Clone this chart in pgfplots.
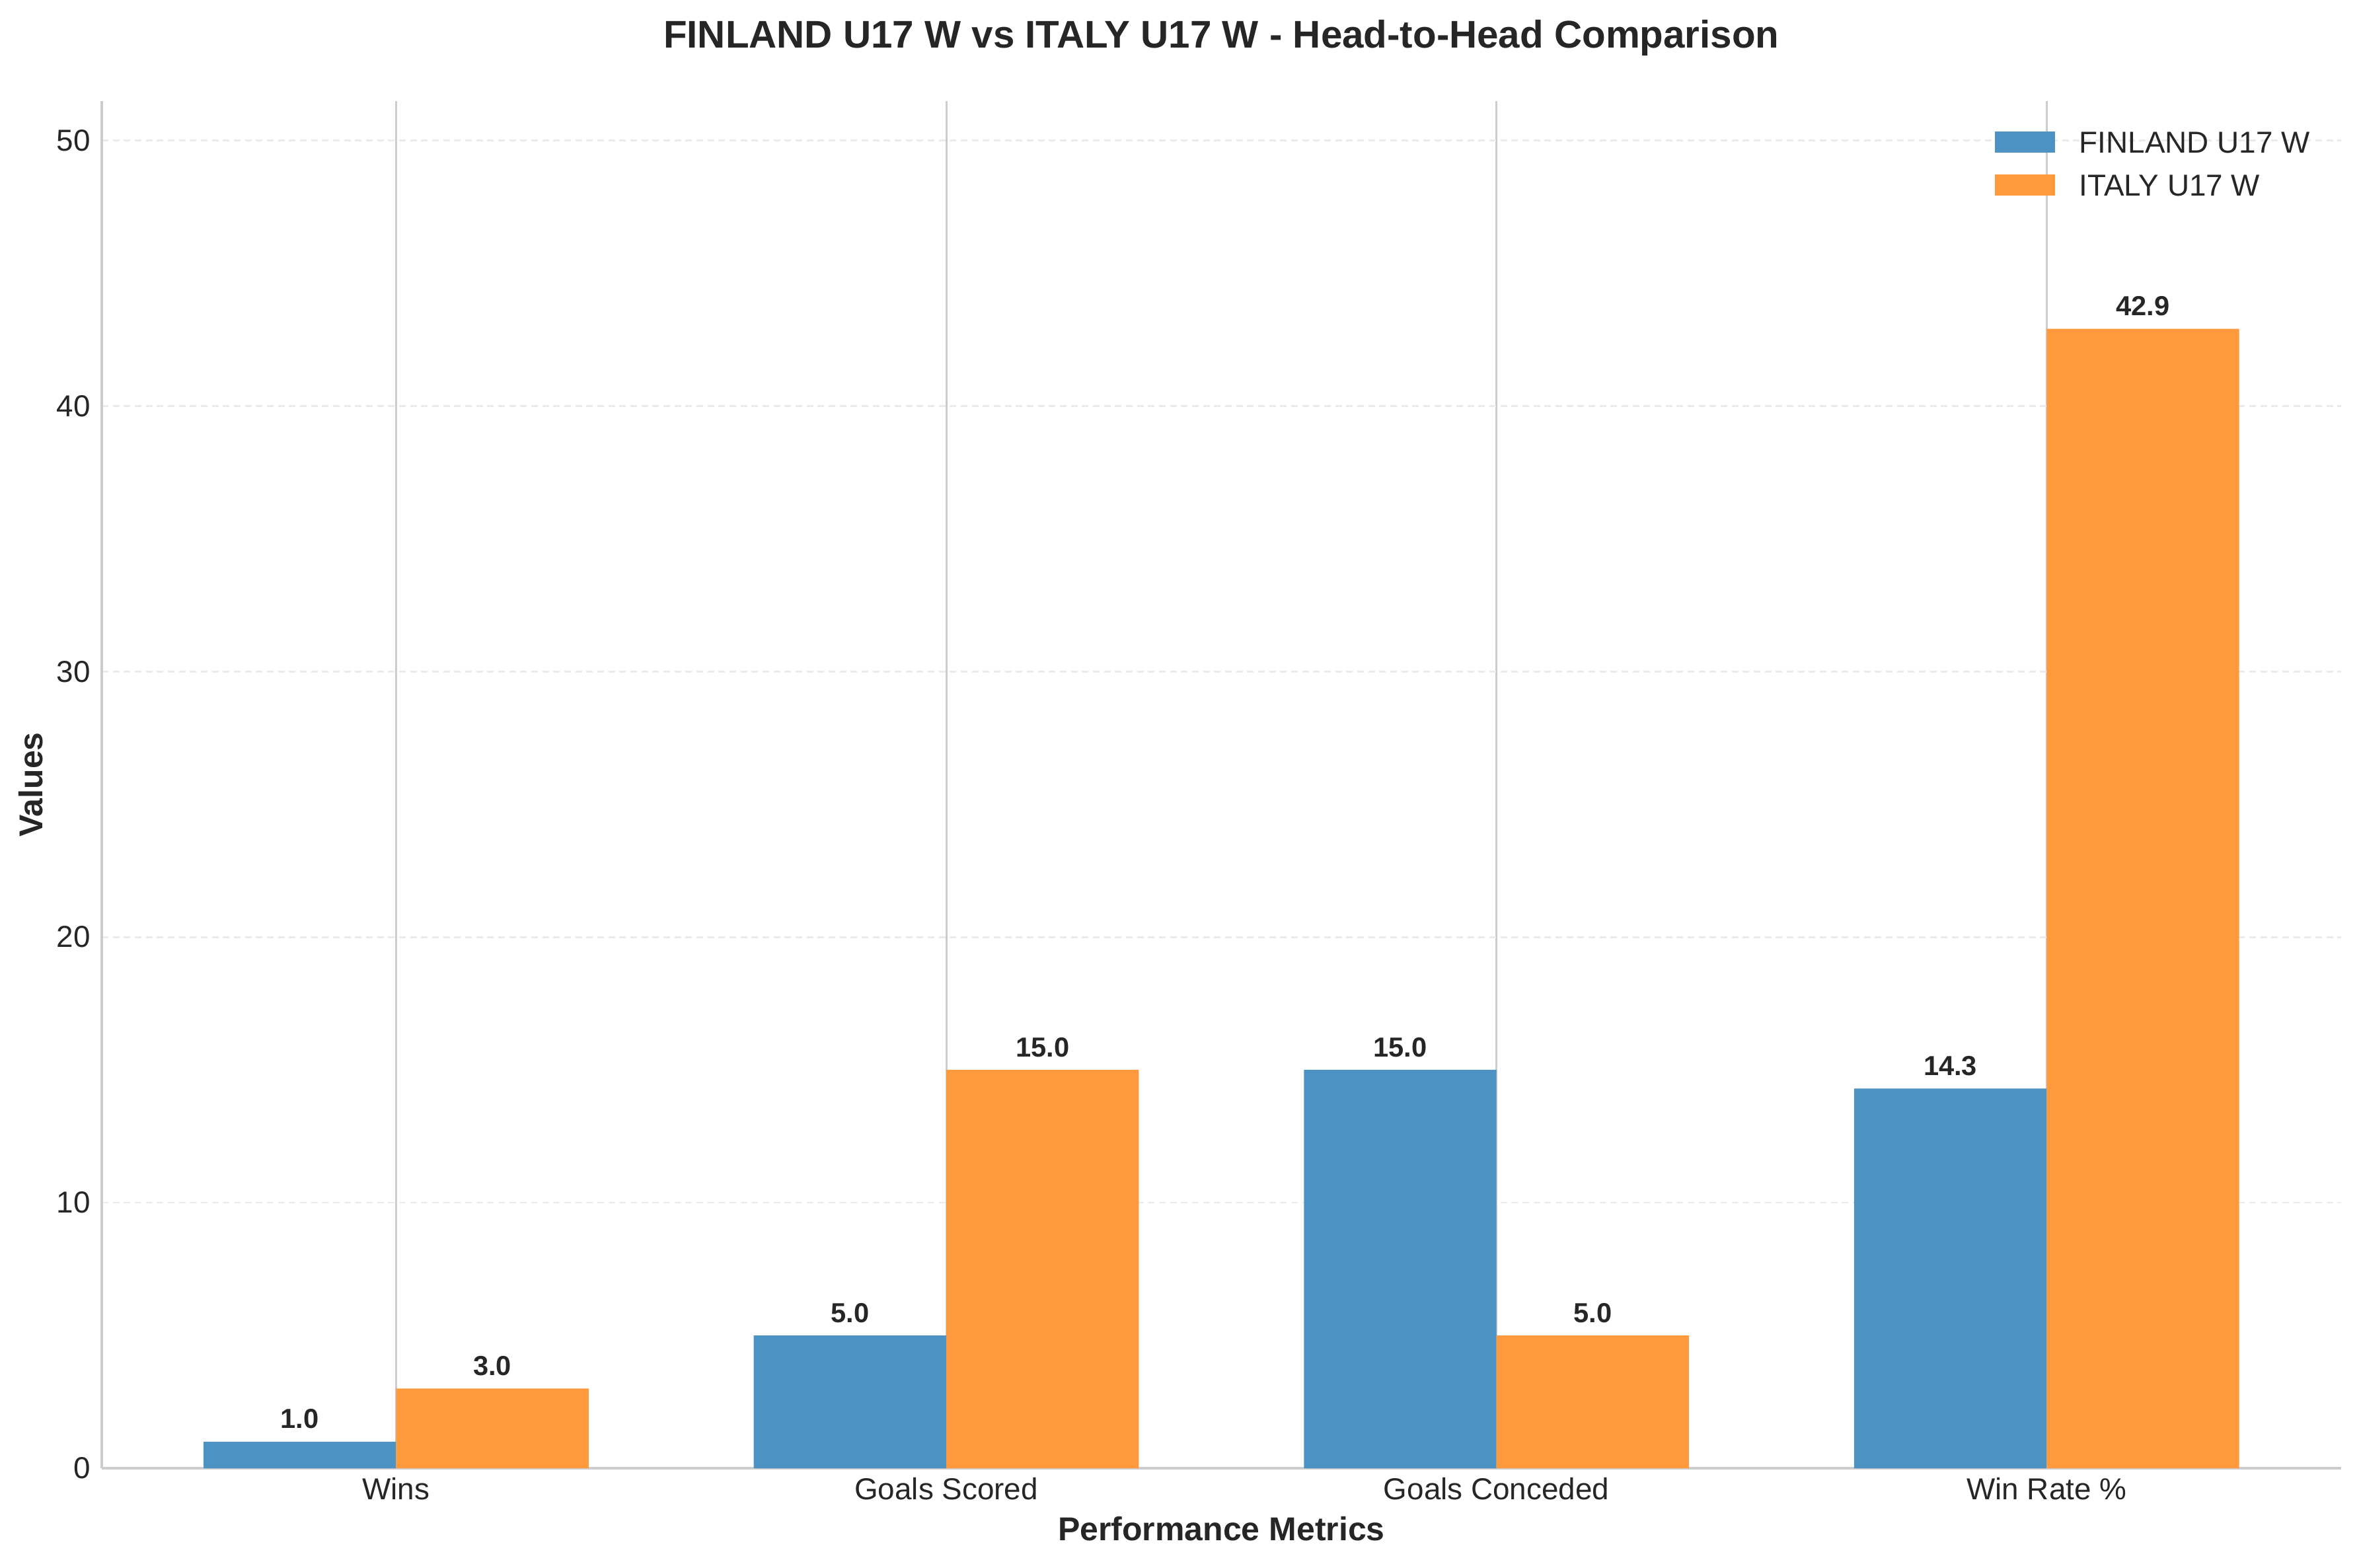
\documentclass[border=0pt]{standalone}
\usepackage{fontspec}
\setmainfont{Liberation Sans}
\usepackage{pgfplots}
\pgfplotsset{compat=1.18}

\definecolor{finblue}{RGB}{76,146,195}
\definecolor{itaorange}{RGB}{255,153,62}
\definecolor{txt}{HTML}{262626}
\definecolor{spine}{HTML}{CCCCCC}
\definecolor{dashgrid}{HTML}{EBEBEB}

\pgfplotsset{
  barlabel/.style={
    nodes near coords={\pgfmathprintnumber[fixed,fixed zerofill,precision=1]{\pgfplotspointmeta}},
    every node near coord/.append style={anchor=base, yshift=4.8pt, inner sep=0pt,
      font=\fontsize{10}{12}\selectfont\bfseries, text=txt},
  },
  patchlegend/.style={
    legend image code/.code={\fill[##1] (0pt,-3.85pt) rectangle (21.8pt,3.85pt);},
  },
}

\begin{document}
\begin{tikzpicture}
\useasboundingbox (-36.96pt,-36pt) rectangle (819.84pt,533.3pt);
\begin{axis}[
  at={(0,0)}, anchor=south west,
  scale only axis, width=813.3pt, height=496.6pt,
  xmin=-0.535, xmax=3.535, ymin=0, ymax=51.48,
  axis x line*=bottom, axis y line*=left,
  axis line style={draw=spine, line width=0.8pt, -},
  xtick={0,1,2,3},
  xticklabels={Wins,Goals Scored,Goals Conceded,Win Rate \%},
  ytick={0,10,20,30,40,50},
  major tick length=0pt,
  xmajorgrids, ymajorgrids,
  major x grid style={draw=spine, line width=0.7pt},
  major y grid style={draw=dashgrid, line width=0.65pt, dash pattern=on 2.4pt off 1.6pt},
  /pgf/number format/assume math mode=true,
  tick label style={font=\fontsize{11}{13}\selectfont, text=txt},
  xticklabel style={anchor=base, inner sep=0pt, yshift=-11.5pt},
  yticklabel style={anchor=east, inner sep=0pt, xshift=-4pt},
  title={FINLAND U17 W vs ITALY U17 W - Head-to-Head Comparison},
  title style={at={(axis description cs:0.5,1)}, anchor=base, yshift=13.4pt,
    inner sep=0pt, font=\fontsize{14}{17}\selectfont\bfseries, text=txt},
  xlabel={Performance Metrics},
  xlabel style={at={(axis description cs:0.5,0)}, anchor=base, yshift=-26.3pt,
    inner sep=0pt, font=\fontsize{12}{14}\selectfont\bfseries, text=txt},
  ylabel={Values},
  ylabel style={at={(axis description cs:-0.0263,0.5)}, anchor=base,
    inner sep=0pt, font=\fontsize{12}{14}\selectfont\bfseries, text=txt},
  legend cell align=left,
  legend style={at={(axis description cs:1,1)}, anchor=north east,
    xshift=-11.3pt, yshift=-10.8pt, draw=none, fill=none,
    inner sep=0pt, outer sep=0pt, row sep=7.6pt, column sep=8.9pt,
    font=\fontsize{11}{13}\selectfont,
    nodes={inner sep=0pt, text height=8pt, text depth=0pt, text=txt,
      font=\fontsize{11}{13}\selectfont}},
]
% FINLAND U17 W: Wins, Goals Scored, Goals Conceded, Win Rate %
\addplot[ybar, bar width=0.35, bar shift=0pt, fill=finblue, draw=none,
  barlabel, patchlegend]
  coordinates {(-0.175,1.0) (0.825,5.0) (1.825,15.0) (2.825,14.3)};
\addlegendentry{FINLAND U17 W}
% ITALY U17 W
\addplot[ybar, bar width=0.35, bar shift=0pt, fill=itaorange, draw=none,
  barlabel, patchlegend]
  coordinates {(0.175,3.0) (1.175,15.0) (2.175,5.0) (3.175,42.9)};
\addlegendentry{ITALY U17 W}
\end{axis}
\end{tikzpicture}
\end{document}
